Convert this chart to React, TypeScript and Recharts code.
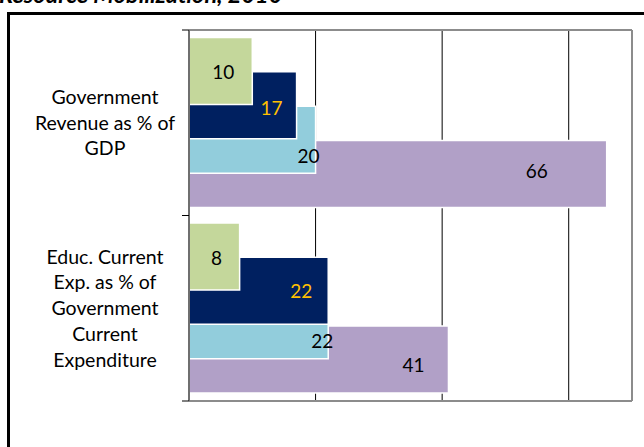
import React from 'react';
import { BarChart, Bar, XAxis, YAxis, ReferenceLine, LabelList, Text } from 'recharts';

const FONT = 'Lato, "Open Sans", sans-serif';

// chart data
const categories = [
  'Government Revenue as % of GDP',
  'Educ. Current Exp. as % of Government Current Expenditure',
];
const greenValues = [10, 8];
const navyValues = [17, 22];
const blueValues = [20, 22];
const purpleValues = [66, 41];
const xTicks = [0, 20, 40, 60];
const xMax = 70;

const data = categories.map((name, i) => ({
  name,
  green: greenValues[i],
  navy: navyValues[i],
  blue: blueValues[i],
  purple: purpleValues[i],
}));

// drawn back to front: purple first so green sits on top
const series = [
  { key: 'purple', color: '#B1A0C7', shift: 51.5, text: '#000', dx: [-70, -35], dy: [-4, 5] },
  { key: 'blue', color: '#92CDDC', shift: 17.2, text: '#000', dx: [-7, -6], dy: [16, 15] },
  { key: 'navy', color: '#002060', shift: -17.2, text: '#FFC000', dx: [-25, -27], dy: [2, 0] },
  { key: 'green', color: '#C4D79B', shift: -51.5, text: '#000', dx: [-29, -23], dy: [0, 1] },
];

// category label plus tick marks at the band edges
const CategoryTick = (props: any) => {
  const { x, y, payload, height, visibleTicksCount } = props;
  const half = payload && payload.offset > 5 ? payload.offset : height / (2 * (visibleTicksCount || 2));
  return (
    <g>
      <line x1={x} x2={x + 7} y1={y - half} y2={y - half} stroke="#000" />
      <line x1={x} x2={x + 7} y1={y + half} y2={y + half} stroke="#000" />
      <Text
        x={x - 77}
        y={y}
        width={126}
        textAnchor="middle"
        verticalAnchor="middle"
        lineHeight="1.32em"
        fontSize={19.5}
        fill="#000"
        style={{ fontFamily: FONT, fontSize: 19.5 }}
      >
        {payload.value}
      </Text>
    </g>
  );
};

const makeLabel = (s: (typeof series)[number]) => (p: any) => {
  const i = p.index ?? 0;
  const x = Number(p.x) + Number(p.width) + s.dx[i];
  const y = Number(p.y) + Number(p.height) / 2 + s.dy[i];
  return (
    <text
      x={x}
      y={y}
      textAnchor="middle"
      dominantBaseline="central"
      fill={s.text}
      style={{ fontFamily: FONT, fontSize: 19 }}
    >
      {p.value}
    </text>
  );
};

const borderColor = '#8c8c8c';

export default function App() {
  return (
    <div style={{ position: 'absolute', left: 0, top: 0, width: 644, height: 447, overflow: 'hidden', background: '#fff' }}>
      <div
        style={{
          position: 'absolute',
          left: -1,
          top: -17,
          fontFamily: FONT,
          fontSize: 23.5,
          lineHeight: '23.5px',
          fontWeight: 'bold',
          fontStyle: 'italic',
          whiteSpace: 'nowrap',
        }}
      >
        Resource Mobilization, 2010
      </div>
      <div
        style={{
          position: 'absolute',
          left: 7,
          top: 12,
          width: 660,
          height: 460,
          border: '3px solid #000',
        }}
      />
      <div style={{ position: 'absolute', left: 0, top: 0 }}>
        <BarChart
          width={644}
          height={402}
          data={data}
          layout="vertical"
          margin={{ top: 30, right: 12, bottom: 1, left: 0 }}
        >
          <XAxis type="number" domain={[0, xMax]} ticks={xTicks} hide />
          <YAxis
            yAxisId="labels"
            type="category"
            dataKey="name"
            width={189}
            axisLine={{ stroke: '#6f6f6f', strokeWidth: 2 }}
            tickLine={false}
            tickSize={7}
            tickMargin={0}
            tick={<CategoryTick />}
            interval={0}
          />
          <YAxis yAxisId="frame" type="number" domain={[0, 1]} hide width={0} />
          {series.map((s) => (
            <YAxis
              key={'ax-' + s.key}
              yAxisId={s.key}
              type="category"
              dataKey="name"
              hide
              width={0}
              padding={{ top: s.shift, bottom: -s.shift }}
            />
          ))}
          {xTicks.slice(1).map((t) => (
            <ReferenceLine key={'g' + t} x={t} yAxisId="frame" stroke="#000" strokeWidth={1} zIndex={-50} />
          ))}
          <ReferenceLine x={xMax} yAxisId="frame" stroke={borderColor} strokeWidth={2} />
          <ReferenceLine y={1} yAxisId="frame" stroke={borderColor} strokeWidth={2} />
          <ReferenceLine y={0} yAxisId="frame" stroke={borderColor} strokeWidth={2} />
          {series.map((s) => (
            <Bar
              key={s.key}
              dataKey={s.key}
              yAxisId={s.key}
              fill={s.color}
              stroke="#fff"
              strokeWidth={1.5}
              barSize={67}
              isAnimationActive={false}
            >
              <LabelList dataKey={s.key} content={makeLabel(s)} />
            </Bar>
          ))}
        </BarChart>
      </div>
    </div>
  );
}
